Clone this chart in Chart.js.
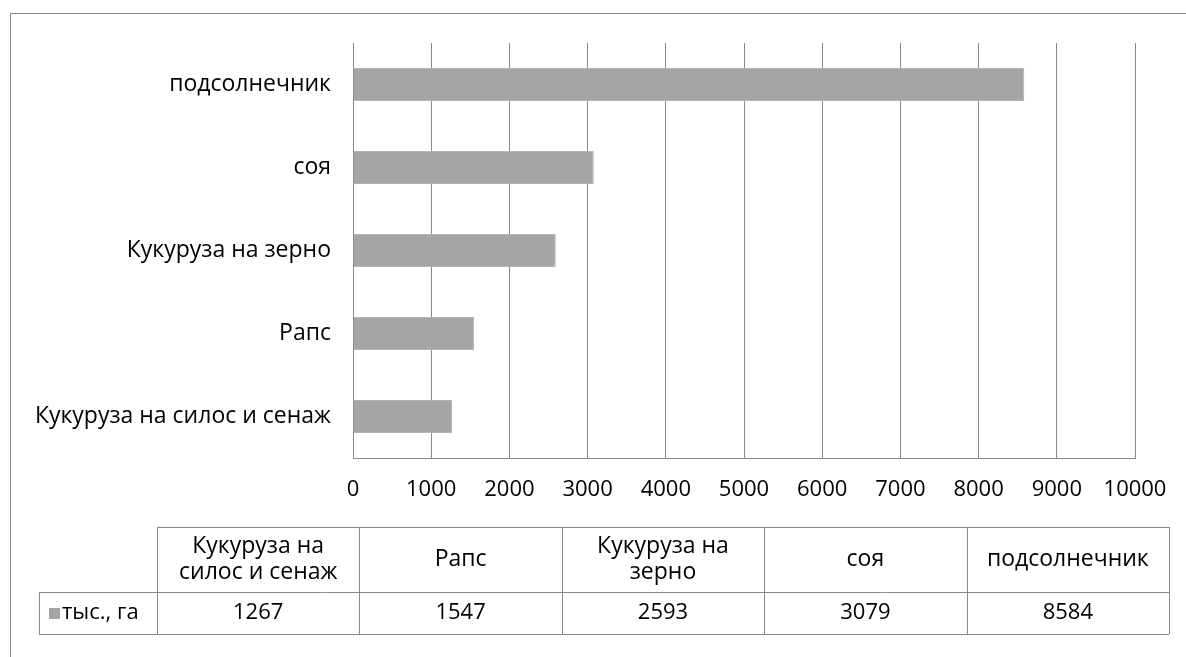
<!DOCTYPE html>
<html>
<head>
<meta charset="utf-8">
<script src="https://cdn.jsdelivr.net/npm/chart.js@4"></script>
<style>
  html, body { margin: 0; padding: 0; background: #fff; }
  #wrap { width: 1186px; height: 657px; }
</style>
</head>
<body>
<div id="wrap"><canvas id="cropChart" width="1186" height="657"></canvas></div>
<script>
const categories = ['Кукуруза на силос и сенаж', 'Рапс', 'Кукуруза на зерно', 'соя', 'подсолнечник'];
const areaValues = [1267, 1547, 2593, 3079, 8584];
const seriesName = 'тыс., га';
const xTicks = [0, 1000, 2000, 3000, 4000, 5000, 6000, 7000, 8000, 9000, 10000];

const FONT = '"Open Sans", "DejaVu Sans", sans-serif';
const TEXT_SIZE = 23;
const NUM_SIZE = 22;
const LINE = '#888888';
const BAR = '#a5a5a5';

function wrapText(ctx, text, maxW) {
    const words = text.split(' ');
    const lines = [];
    let cur = '';
    words.forEach(w => {
        const test = cur ? cur + ' ' + w : w;
        if (ctx.measureText(test).width > maxW && cur) {
            lines.push(cur);
            cur = w;
        } else {
            cur = test;
        }
    });
    if (cur) lines.push(cur);
    return lines;
}

// frame + data table under the chart
const tablePlugin = {
    id: 'dataTable',
    afterDraw(chart) {
        const ctx = chart.ctx;
        ctx.save();
        ctx.strokeStyle = LINE;
        ctx.lineWidth = 1;

        // outer frame (cut off at right and bottom)
        ctx.beginPath();
        ctx.moveTo(10.5, 700);
        ctx.lineTo(10.5, 13.5);
        ctx.lineTo(1200, 13.5);
        ctx.stroke();

        const x0 = 157, x1 = 1169, lx = 39;
        const yTop = 527, yMid = 592, yBot = 634;
        const colW = (x1 - x0) / categories.length;

        ctx.beginPath();
        ctx.moveTo(x0, yTop + 0.5); ctx.lineTo(x1, yTop + 0.5);
        ctx.moveTo(lx, yMid + 0.5); ctx.lineTo(x1, yMid + 0.5);
        ctx.moveTo(lx, yBot + 0.5); ctx.lineTo(x1, yBot + 0.5);
        ctx.moveTo(lx + 0.5, yMid); ctx.lineTo(lx + 0.5, yBot);
        for (let i = 0; i <= categories.length; i++) {
            const x = Math.round(x0 + i * colW) + 0.5;
            ctx.moveTo(x, yTop); ctx.lineTo(x, yBot);
        }
        ctx.stroke();

        ctx.fillStyle = '#000';
        ctx.textAlign = 'center';
        ctx.textBaseline = 'middle';
        categories.forEach((c, i) => {
            const cx = x0 + (i + 0.5) * colW;
            ctx.font = TEXT_SIZE + 'px ' + FONT;
            const lines = wrapText(ctx, c, colW - 30);
            const lh = 26;
            const cy = (yTop + yMid) / 2 - (lines.length - 1) * lh / 2;
            lines.forEach((ln, j) => ctx.fillText(ln, cx, cy + j * lh));
            ctx.font = NUM_SIZE + 'px ' + FONT;
            ctx.fillText(String(areaValues[i]), cx, (yMid + yBot) / 2);
        });

        // legend key in the row header
        ctx.fillStyle = BAR;
        ctx.fillRect(49, 608, 11, 11);
        ctx.fillStyle = '#000';
        ctx.textAlign = 'left';
        ctx.font = (TEXT_SIZE - 1) + 'px ' + FONT;
        ctx.fillText(seriesName, 62, (yMid + yBot) / 2);
        ctx.restore();
    }
};

const ctx = document.getElementById('cropChart').getContext('2d');
new Chart(ctx, {
    type: 'bar',
    data: {
        labels: categories,
        datasets: [{
            label: seriesName,
            data: areaValues,
            backgroundColor: BAR,
            borderColor: '#b4b4b4',
            borderWidth: 1,
            barPercentage: 1,
            categoryPercentage: 0.4
        }]
    },
    options: {
        indexAxis: 'y',
        responsive: false,
        animation: false,
        devicePixelRatio: 1,
        layout: { padding: { top: 43, right: 51, left: 0, bottom: 0 } },
        plugins: { legend: { display: false }, tooltip: { enabled: false } },
        scales: {
            x: {
                min: 0,
                max: 10000,
                afterBuildTicks: axis => { axis.ticks = xTicks.map(v => ({ value: v })); },
                afterFit: axis => { axis.height = 657 - 43 - 415; },
                grid: { color: LINE, drawTicks: false },
                border: { color: LINE },
                ticks: {
                    padding: 19,
                    color: '#000',
                    callback: v => String(v),
                    font: { family: FONT, size: NUM_SIZE }
                }
            },
            y: {
                reverse: true,
                afterFit: axis => { axis.width = 353; },
                grid: { display: false, drawTicks: false },
                border: { color: LINE },
                ticks: {
                    padding: 22,
                    color: '#000',
                    font: { family: FONT, size: TEXT_SIZE }
                }
            }
        }
    },
    plugins: [tablePlugin]
});
</script>
</body>
</html>
